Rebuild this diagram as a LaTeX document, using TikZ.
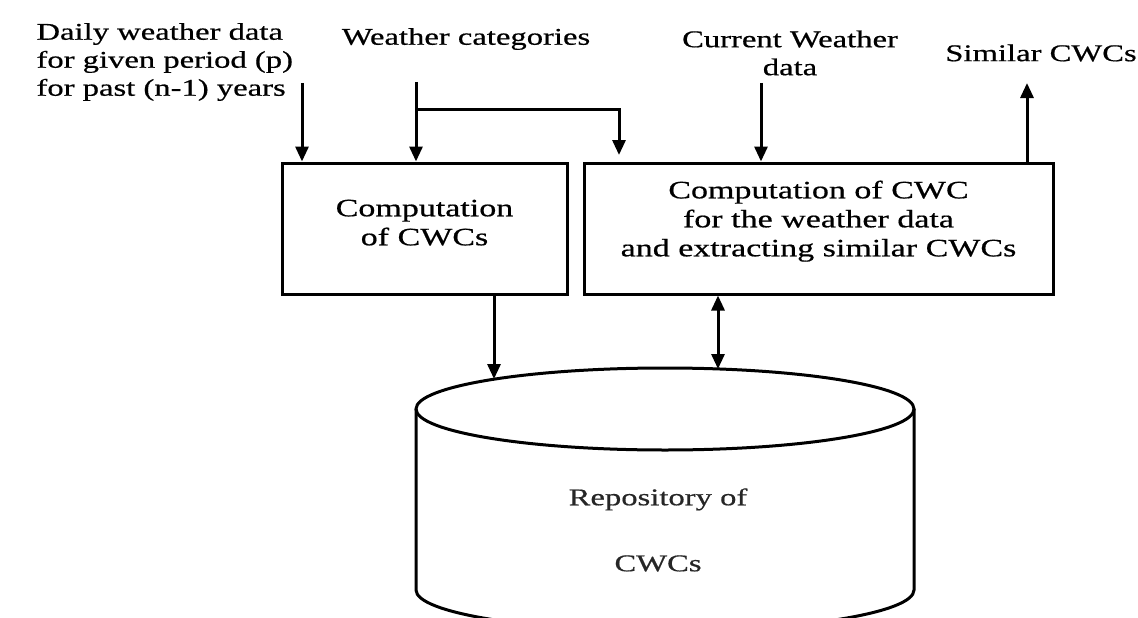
\documentclass[tikz,border=0pt]{standalone}
\usepackage{fontspec}
\newfontfamily\figfont{Liberation Serif}[FakeStretch=1.36, FakeBold=0.6]
\usetikzlibrary{arrows.meta, positioning}

\begin{document}
\begin{tikzpicture}[x=1pt, y=-1pt, line width=3pt,
    lbl/.style={font=\figfont\fontsize{24}{28}\selectfont, inner sep=0pt},
    procbox/.style={draw, font=\figfont\fontsize{25}{29}\selectfont, align=center},
    flow/.style={-{Triangle[length=15pt,width=13pt]}},
    flowboth/.style={{Triangle[length=15pt,width=13pt]}-{Triangle[length=15pt,width=13pt]}}]
      \useasboundingbox (0,0) rectangle (1138,618);
      \clip (0,0) rectangle (1138,618);

      % 1. the two computation boxes
      \node[procbox, minimum width=285, minimum height=131, text depth=12pt] (box1) at (424.5,228.5) {Computation\\of CWCs};
      \node[procbox, minimum width=469, minimum height=131, text depth=20pt] (box2) at (818.5,228.5) {Computation of CWC\\for the weather data\\and extracting similar CWCs};

      % 2. input and output labels
      \node[lbl, align=left, anchor=west] (daily) at (35,62) {Daily weather data\\for given period (p)\\for past (n-1) years};
      \node[lbl] (cats) at (466,39) {Weather categories};
      \node[lbl, align=center] (current) at (790,53) {Current Weather\\data};
      \node[lbl] (similar) at (1041,53) {Similar CWCs};

      % 3. repository (cylinder)
      \draw (665,409) ellipse [x radius=249, y radius=41];
      \draw (416,409) -- (416,590) arc[start angle=180, end angle=0, x radius=249, y radius=41] -- (914,409);
      \node[lbl, align=center, text=black!85] (repo) at (658,530) {Repository of\\[38pt]CWCs};

      % 4. arrow ends
      \coordinate (dailyend) at (302,83);
      \coordinate (catsend) at (416,82);
      \coordinate (fork) at (416,109);
      \coordinate (catstip) at (619,155);
      \coordinate (curend) at (761,83);
      \coordinate (simend) at (1027,83);
      \coordinate (repoa) at (494,379);
      \coordinate (repob) at (718,369);

      % 5. arrows
      \draw[flow] (dailyend) -- (dailyend |- box1.north);
      \draw[flow] (catsend) -- (catsend |- box1.north);
      \draw[flow] (fork) -| (catstip);
      \draw[flow] (curend) -- (curend |- box2.north);
      \draw[flow] (simend |- box2.north) -- (simend);
      \draw[flow] (repoa |- box1.south) -- (repoa);
      \draw[flowboth] (repob |- box2.south) -- (repob);
\end{tikzpicture}
\end{document}
